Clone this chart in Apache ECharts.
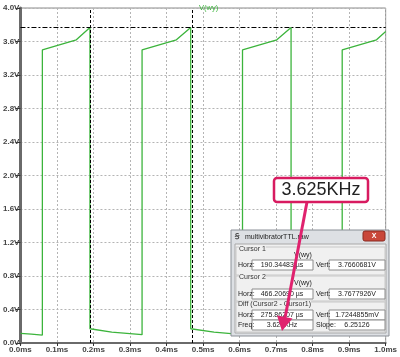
<!DOCTYPE html>
<html><head><meta charset="utf-8">
<script src="https://cdn.jsdelivr.net/npm/echarts@6/dist/echarts.min.js"></script>
<style>html,body{margin:0;padding:0;background:#fff}#c{width:400px;height:357px}</style>
</head><body><div id="c"></div>
<script>
// waveform V(wy): time in ms, voltage in V
const timeMs = [0, 0.03, 0.060, 0.060, 0.153, 0.1903, 0.1903, 0.25, 0.333, 0.333, 0.427, 0.4662, 0.4662, 0.53, 0.608, 0.608, 0.702, 0.741, 0.741, 0.80, 0.881, 0.881, 0.975, 1.0];
const volts  = [0.115, 0.105, 0.095, 3.50, 3.62, 3.766, 0.17, 0.13, 0.10, 3.50, 3.62, 3.768, 0.17, 0.13, 0.10, 3.50, 3.62, 3.766, 0.17, 0.13, 0.10, 3.50, 3.62, 3.72];
const cursorTimes = [0.190345, 0.466207];
const cursorLevel = [3.766];
const traceName = 'V(wy)';
const calloutText = '3.625KHz';
const dialogRows = [
  ['Horz:', '190.34483 µs', 'Vert:', '3.7660681V'],
  ['Horz:', '466.20690 µs', 'Vert:', '3.7677926V'],
  ['Horz:', '275.86207 µs', 'Vert:', '1.7244855mV'],
  ['Freq:', '3.625KHz', 'Slope:', '6.25126']
];

const chart = echarts.init(document.getElementById('c'), null, {renderer:'canvas'});
const FF = 'Liberation Sans, Arial, sans-serif';
const green = '#3cb43c';
const txt = (x,y,s,o={}) => ({type:'text', z:110, x, y, style:Object.assign({text:s, fill:'#222', font:'7px '+FF, textVerticalAlign:'middle'}, o)});
const rowY = [265, 294, 315, 325];
const g = [];
// dialog
g.push({type:'rect', z:100, shape:{x:231,y:230,width:158,height:106}, style:{fill:'#dde0e4', stroke:'#8a8f96', lineWidth:1}});
g.push({type:'rect', z:101, shape:{x:235,y:244,width:151,height:89}, style:{fill:'#f0f0f0', stroke:'#a8a8a8', lineWidth:1}});
g.push({type:'rect', z:102, shape:{x:363,y:231,width:22,height:10, r:2}, style:{fill:'#c9473a', stroke:'#8a2a20'}});
g.push(txt(374,236,'X',{fill:'#fff', font:'bold 7px '+FF, textAlign:'center'}));
g.push(txt(235,236.5,'Ꞩ',{fill:'#444', font:'bold 8px '+FF}));
g.push(txt(245,237,'multivibratorTTL.raw',{font:'7px '+FF, fill:'#222'}));
// group frames
[[236,247,149,28],[236,276,149,25],[236,302,149,30]].forEach(r=>g.push({type:'rect', z:102, shape:{x:r[0],y:r[1],width:r[2],height:r[3]}, style:{fill:'none', stroke:'#c8c8c8', lineWidth:1}}));
g.push(txt(239,249,'Cursor 1',{fill:'#333', backgroundColor:'#f0f0f0'}));
g.push(txt(303,255,traceName,{textAlign:'center'}));
g.push(txt(239,277,'Cursor 2',{fill:'#333', backgroundColor:'#f0f0f0'}));
g.push(txt(303,283,traceName,{textAlign:'center'}));
g.push(txt(238,304,'Diff (Cursor2 - Cursor1)',{fill:'#333', backgroundColor:'#f0f0f0'}));
dialogRows.forEach((r,i)=>{
  const y = rowY[i];
  g.push(txt(238,y,r[0]));
  g.push({type:'rect', z:103, shape:{x:252,y:y-5,width:61,height:10}, style:{fill:'#fff', stroke:'#8c8c8c', lineWidth:1}});
  g.push(txt(282,y,r[1],{textAlign:'center'}));
  g.push(txt(316,y,r[2]));
  g.push({type:'rect', z:103, shape:{x:329,y:y-5,width:56,height:10}, style:{fill:'#fff', stroke:'#8c8c8c', lineWidth:1}});
  g.push(txt(357,y,r[3],{textAlign:'center'}));
});
// arrow
g.push({type:'line', z:120, shape:{x1:307,y1:202,x2:285,y2:318}, style:{stroke:'#e0226e', lineWidth:3}});
g.push({type:'polygon', z:120, shape:{points:[[282,331],[292.5,318.5],[277,315.5]]}, style:{fill:'#e0226e'}});
// callout
g.push({type:'rect', z:121, shape:{x:274,y:178,width:94,height:24,r:3}, style:{fill:'#fff', stroke:'#d81b60', lineWidth:2.5}});
g.push({type:'text', z:122, x:321, y:190.5, style:{text:calloutText, fill:'#222', font:'18px '+FF, textAlign:'center', textVerticalAlign:'middle'}});

const mlData = cursorTimes.map(t=>({xAxis:t, lineStyle:{type:[3,2], color:'#000', width:1}}))
  .concat(cursorLevel.map(v=>({yAxis:v, lineStyle:{type:[5,2,2,2], color:'#000', width:1}})));

chart.setOption({
  animation:false,
  backgroundColor:'#fff',
  title:{text:traceName, left:194, top:-1, textStyle:{color:green, fontSize:7.5, fontWeight:'normal', fontFamily:FF}},
  grid:{left:19, right:8, top:8, bottom:14, show:true, borderColor:'#8a8a8a', borderWidth:1},
  xAxis:{type:'value', min:0, max:1, interval:0.1,
    axisLine:{show:true, onZero:false, lineStyle:{color:'#6a6a6a', width:2}},
    axisTick:{show:true, length:3, lineStyle:{color:'#333'}},
    axisLabel:{formatter:v=>v.toFixed(1)+'ms', fontSize:8, fontWeight:'bold', color:'#444', margin:3, fontFamily:FF, showMaxLabel:true},
    splitLine:{show:true, lineStyle:{color:'#b4b4b4', type:[2,2], width:1}}},
  yAxis:{type:'value', min:0, max:4, interval:0.4,
    axisLine:{show:true, onZero:false, lineStyle:{color:'#6a6a6a', width:3}},
    axisTick:{show:true, length:5, lineStyle:{color:'#333'}},
    axisLabel:{formatter:v=>v.toFixed(1)+'V', fontSize:8, fontWeight:'bold', color:'#444', margin:1, fontFamily:FF},
    splitLine:{show:true, lineStyle:{color:'#b4b4b4', type:[2,2], width:1}}},
  series:[{type:'line', data:timeMs.map((t,i)=>[t,volts[i]]), symbol:'none', lineStyle:{color:green, width:1.3},
    markLine:{silent:true, symbol:'none', label:{show:false}, data:mlData}}],
  graphic:g
});
</script></body></html>
